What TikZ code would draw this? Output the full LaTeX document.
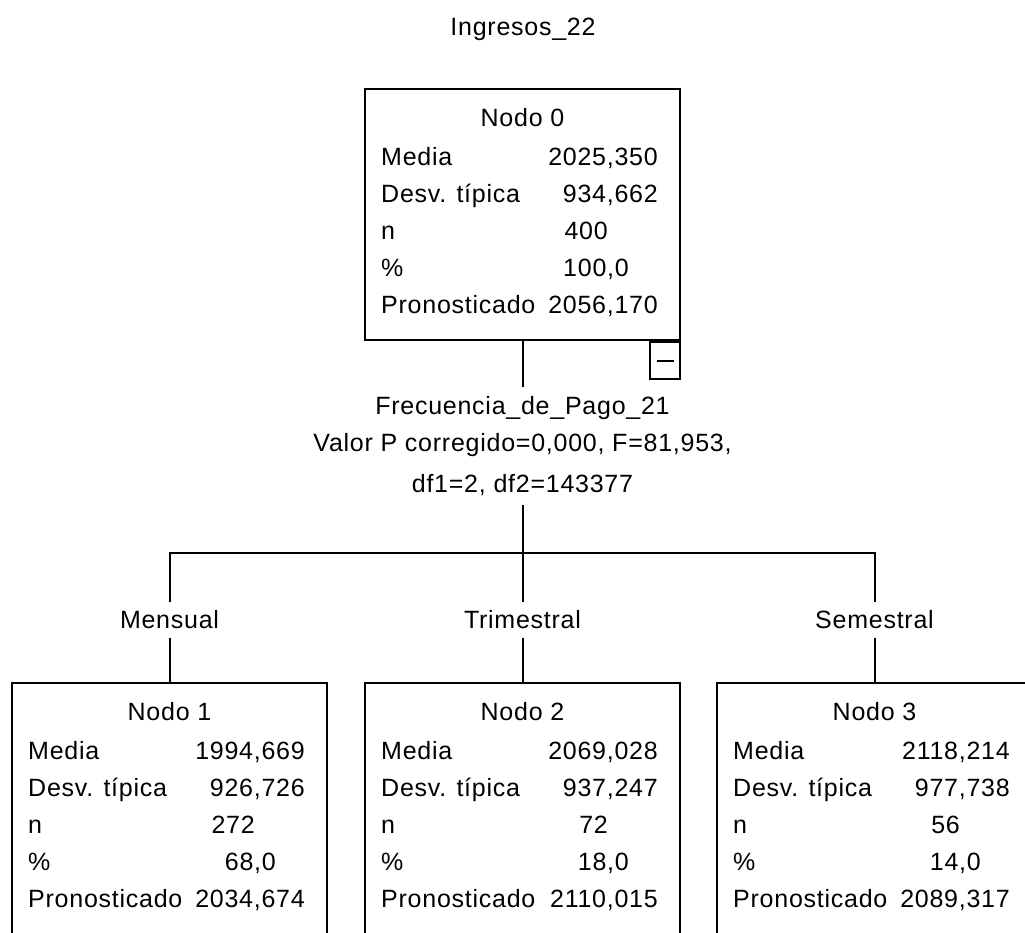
\documentclass[tikz,border=0pt]{standalone}
\usepackage{fontspec}
\setmainfont{Liberation Sans}[LetterSpace=3]
\usetikzlibrary{calc}

% one unit = 1pt, y grows downwards
\tikzset{
  x=1pt, y=-1pt,
  line/.style={line width=2pt, black},
  statbox/.style={draw, line width=2pt, rectangle, minimum width=315pt,
                  minimum height=251pt, inner sep=0pt},
  lbl/.style={inner sep=0pt, anchor=base west},
  val/.style={inner sep=0pt, anchor=base east},
  ttl/.style={inner sep=0pt, anchor=base},
  branch/.style={inner sep=0pt, minimum height=35pt},
  collapse/.style={draw, line width=2pt, minimum width=30pt, minimum height=37pt,
                   inner sep=0pt, anchor=north east},
}

% #1 name, #2 left, #3 top, #4 title, #5 media, #6 desv, #7 n, #8 pct, #9 pron
\newcommand\statnode[9]{%
  \node[statbox] (#1) at (#2+157.5, #3+125.5) {};
  \node[ttl] (#1-t) at (#2+157.5, #3+37) {#4};
  \node[lbl] (#1-l1) at (#2+16, #3+76)  {Media};
  \node[lbl] (#1-l2) at (#2+16, #3+113) {Desv. típica};
  \node[lbl] (#1-l3) at (#2+16, #3+150) {n};
  \node[lbl] (#1-l4) at (#2+16, #3+187) {\%};
  \node[lbl] (#1-l5) at (#2+16, #3+224) {Pronosticado};
  \node[val] (#1-v1) at (#2+293, #3+76)  {#5};
  \node[val] (#1-v2) at (#2+293, #3+113) {#6};
  \node[val] (#1-v3) at (#2+243, #3+150) {#7};
  \node[val] (#1-v4) at (#2+264, #3+187) {#8};
  \node[val] (#1-v5) at (#2+293, #3+224) {#9};
}

\begin{document}
\fontsize{25}{37}\selectfont
\begin{tikzpicture}
  \useasboundingbox (0,0) rectangle (1025,932);
  \clip (0,0) rectangle (1025,932);
  \fill[white] (0,0) rectangle (1025,932);

  \node[ttl] (title) at (523,35) {Ingresos\_22};

  \statnode{n0}{365}{89}{Nodo 0}{2025,350}{934,662}{400}{100,0}{2056,170}
  \node[collapse] (coll) at (n0.south east) {\rule[-1pt]{17pt}{2pt}};

  \node[align=center, inner sep=0pt, minimum height=118pt] (split) at (522.5,446)
    {Frecuencia\_de\_Pago\_21\\Valor P corregido=0,000, F=81,953,\\[4pt]df1=2, df2=143377};

  \statnode{n1}{12}{683}{Nodo 1}{1994,669}{926,726}{272}{68,0}{2034,674}
  \statnode{n2}{365}{683}{Nodo 2}{2069,028}{937,247}{72}{18,0}{2110,015}
  \statnode{n3}{717}{683}{Nodo 3}{2118,214}{977,738}{56}{14,0}{2089,317}

  \node[branch] (b1) at (n1.north |- 0,620) {Mensual};
  \node[branch] (b2) at (n2.north |- 0,620) {Trimestral};
  \node[branch] (b3) at (n3.north |- 0,620) {Semestral};
  \coordinate (bus) at (n2.north |- 0,553);

  \draw[line] (n0.south) -- (split.north);
  \draw[line] (split.south) -- (b2.north);
  \draw[line] (b1.north) |- (bus) -| (b3.north);
  \draw[line] (b1.south) -- (n1.north);
  \draw[line] (b2.south) -- (n2.north);
  \draw[line] (b3.south) -- (n3.north);
\end{tikzpicture}
\end{document}
